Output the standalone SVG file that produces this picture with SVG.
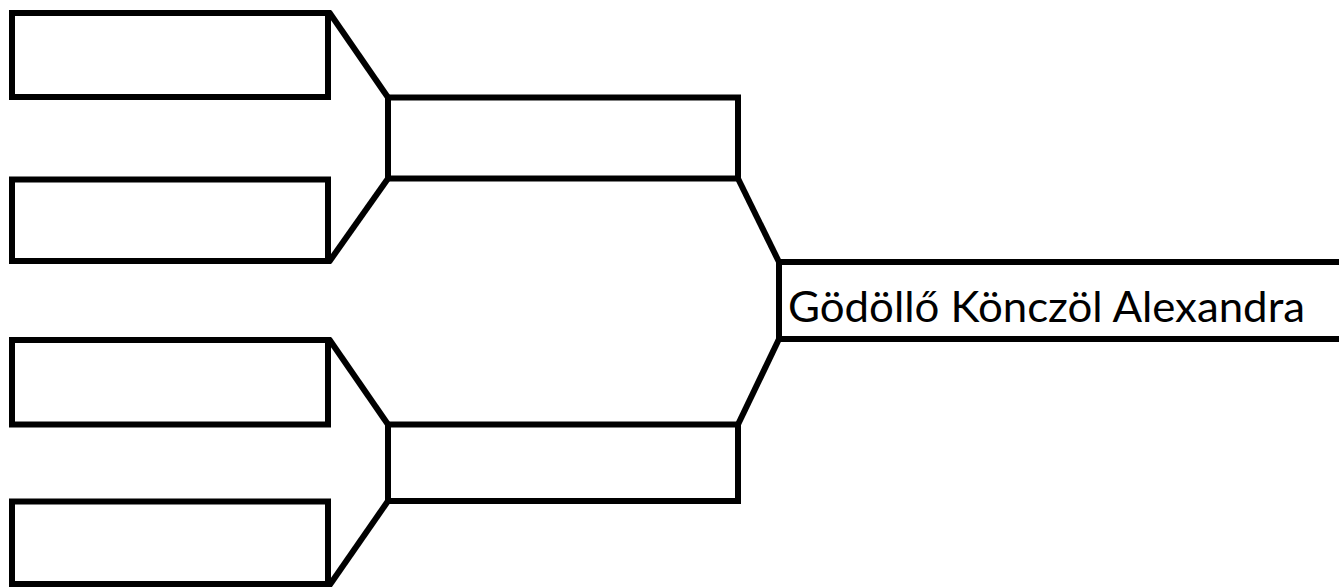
<svg xmlns="http://www.w3.org/2000/svg" width="1339" height="587" viewBox="0 0 1339 587">
  <style>
    .box { fill: #ffffff; stroke: #000000; stroke-width: 6; }
    .conn { fill: none; stroke: #000000; stroke-width: 6; stroke-linejoin: miter; }
    .label { font-family: Lato, "Open Sans", "Liberation Sans", sans-serif; font-size: 43px; fill: #000000; }
  </style>
  <rect width="1339" height="587" fill="#ffffff"/>
  <g id="connectors">
    <line class="conn" x1="329" y1="12" x2="388" y2="97.5"/>
    <line class="conn" x1="329" y1="262" x2="388" y2="178.5"/>
    <line class="conn" x1="329" y1="339" x2="388" y2="424.5"/>
    <line class="conn" x1="329" y1="586" x2="388" y2="501"/>
    <line class="conn" x1="738" y1="178.5" x2="779" y2="262"/>
    <line class="conn" x1="738" y1="424.5" x2="779" y2="339"/>
  </g>
  <g id="node-r1-1">
    <rect class="box" x="12" y="13" width="316" height="84"/>
  </g>
  <g id="node-r1-2">
    <rect class="box" x="12" y="179.5" width="316" height="81.5"/>
  </g>
  <g id="node-r1-3">
    <rect class="box" x="12" y="340" width="316" height="84.5"/>
  </g>
  <g id="node-r1-4">
    <rect class="box" x="12" y="501.5" width="316" height="82.5"/>
  </g>
  <g id="node-r2-1">
    <rect class="box" x="388" y="97.5" width="350" height="81"/>
  </g>
  <g id="node-r2-2">
    <rect class="box" x="388" y="424.5" width="350" height="76.5"/>
  </g>
  <g id="node-winner">
    <path class="conn" d="M1339,262 H779 V339 H1339"/>
    <text class="label" x="788" y="322" textLength="517" lengthAdjust="spacingAndGlyphs">Gödöllő Könczöl Alexandra</text>
  </g>
</svg>
